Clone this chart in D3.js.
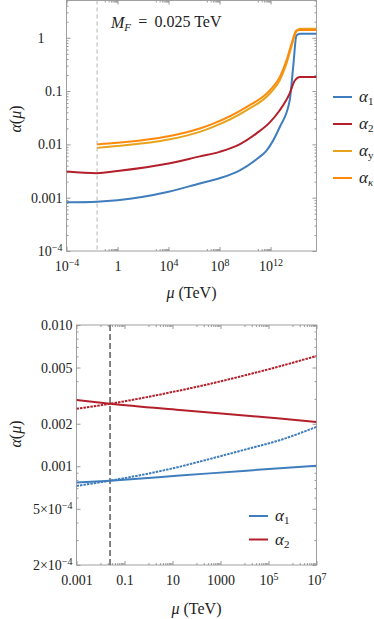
<!DOCTYPE html>
<html>
<head>
<meta charset="utf-8">
<script src="https://cdnjs.cloudflare.com/ajax/libs/d3/7.8.5/d3.min.js"></script>
<style>
  body { margin: 0; background: #fff; }
  svg text { font-family: 'Liberation Serif', serif; }
</style>
</head>
<body>
<div id="chart"></div>
<script>
'use strict';

// ---- data (mu given as log10 of TeV) ----
const topMuA1 = [-4, -1.6, 0, 4, 6.45, 8, 9.59, 11.0, 11.63, 12.72, 13.5, 13.77, 14.03, 14.3, 15.6];
const topA1   = [0.00082, 0.000843, 0.000897, 0.00129, 0.00185, 0.00232, 0.00327, 0.0055, 0.0074, 0.0212, 0.067, 0.281, 1.10, 1.19, 1.19];

const topMuA2 = [-4, -1.6, 0, 4, 6.45, 8, 9.57, 10.9, 11.94, 12.72, 13.5, 13.9, 14.3, 15.6];
const topA2   = [0.0031, 0.00288, 0.00316, 0.00437, 0.00596, 0.00724, 0.0100, 0.0161, 0.0259, 0.0436, 0.0906, 0.158, 0.183, 0.183];

const topMuAk = [-1.6, 0, 4, 6.45, 7.5, 10.1, 11.94, 12.72, 13.25, 13.64, 14.03, 14.3, 15.6];
const topAy   = [0.0086, 0.0093, 0.0123, 0.0172, 0.0213, 0.0435, 0.090, 0.160, 0.33, 0.69, 1.33, 1.47, 1.47];
const topAk   = [0.0100, 0.0107, 0.0142, 0.0198, 0.0245, 0.0501, 0.103, 0.183, 0.376, 0.773, 1.37, 1.40, 1.40];

const botMuSolidA1 = [-3, -1.6, 1.3, 4.08, 7];
const botA1Solid   = [0.000766, 0.000791, 0.000859, 0.000931, 0.00101];
const botMuSolidA2 = [-3, -1.6, 1.3, 5.47, 7];
const botA2Solid   = [0.00294, 0.00277, 0.0025, 0.00218, 0.00206];

const botMuDash = [-3, -1.6, 1.3, 2.14, 4.08, 5.47, 7];
const botA1Dash = [0.000726, 0.000791, 0.000993, 0.00108, 0.00132, 0.00153, 0.0019];
const botA2Dash = [0.00255, 0.00277, 0.00344, 0.00369, 0.00443, 0.0051, 0.00604];

const massF = 0.025;

const topXTicks = [1e-4, 1, 1e4, 1e8, 1e12];
const topYTicks = [1e-4, 1e-3, 1e-2, 0.1, 1];
const botXTicks = [1e-3, 0.1, 10, 1000, 1e5, 1e7];
const botYTicks = [2e-4, 5e-4, 1e-3, 2e-3, 5e-3, 1e-2];

const colors = { a1: '#3f7dbd', a2: '#b31f2a', ay: '#e8a31c', ak: '#ff8a0a' };
const FONT = "'Liberation Serif', serif";

// ---- layout ----
const W = 374, H = 619;
const svg = d3.select('#chart').append('svg').attr('width', W).attr('height', H)
    .attr('font-family', FONT);

const toPts = (mu, v) => mu.map((m, i) => [Math.pow(10, m), v[i]]);

function setLabel(sel, d, kind) {
    sel.text(null);
    const e = Math.round(Math.log10(d));
    const sup = (base, ex) => {
        sel.append('tspan').text(base);
        sel.append('tspan').attr('dy', '-0.45em').attr('font-size', '10px').text(ex);
    };
    if (kind === 'pow') {
        if (e === 0) sel.text('1').attr('dx', -18);
        else if (e === -3 || e === -2 || e === -1) sel.text(d3.format('')(d));
        else sup('10', e < 0 ? '\u2212' + (-e) : e);
    } else if (kind === 'powx') {
        if (e === 0) sel.text('1');
        else sup('10', e < 0 ? '\u2212' + (-e) : e);
    } else if (kind === 'botx') {
        if (e >= 5) sup('10', e);
        else sel.text(d < 1 ? String(d) : d3.format('d')(d));
    } else if (kind === 'boty') {
        if (d < 1e-3) sup(Math.round(d / 1e-4) + '\u00d710', '\u22124');
        else sel.text(d3.format('.3f')(d));
    }
}

function minorTicks(domain, majors) {
    const out = [];
    const lo = Math.floor(Math.log10(domain[0])), hi = Math.ceil(Math.log10(domain[1]));
    for (let e = lo; e <= hi; e++) {
        for (let k = 1; k <= 9; k++) {
            const v = k * Math.pow(10, e);
            if (v >= domain[0] * 0.999 && v <= domain[1] * 1.001 && !majors.some(m => Math.abs(m - v) / v < 1e-6)) out.push(v);
        }
    }
    return out;
}

function panel(cfg) {
    const g = svg.append('g');
    const x = d3.scaleLog().domain(cfg.xDomain).range([cfg.left, cfg.right]);
    const y = d3.scaleLog().domain(cfg.yDomain).range([cfg.bottom, cfg.top]);

    const clipId = 'clip' + cfg.id;
    svg.append('clipPath').attr('id', clipId).append('rect')
        .attr('x', cfg.left).attr('y', cfg.top)
        .attr('width', cfg.right - cfg.left).attr('height', cfg.bottom - cfg.top);

    // frame
    g.append('rect')
        .attr('x', cfg.left).attr('y', cfg.top)
        .attr('width', cfg.right - cfg.left).attr('height', cfg.bottom - cfg.top)
        .attr('fill', 'none').attr('stroke', '#a0a0a0').attr('stroke-width', 1);

    const xMinor = cfg.xMinor;
    const yMinor = minorTicks(cfg.yDomain, cfg.yTicks);

    const styleAxis = a => {
        a.attr('font-family', FONT).attr('font-size', 14);
        a.select('.domain').remove();
        a.selectAll('.tick line').attr('stroke', '#999');
        a.selectAll('.tick text').attr('fill', '#222');
    };

    // bottom
    g.append('g').attr('transform', `translate(0,${cfg.bottom})`)
        .call(d3.axisBottom(x).tickValues(cfg.xTicks).tickSize(-4).tickPadding(10))
        .call(styleAxis)
        .call(a => a.selectAll('.tick text').each(function(d) { setLabel(d3.select(this), d, cfg.xKind); }));
    g.append('g').attr('transform', `translate(0,${cfg.bottom})`)
        .call(d3.axisBottom(x).tickValues(xMinor).tickSize(-2).tickFormat(''))
        .call(styleAxis);
    // top (mirror)
    g.append('g').attr('transform', `translate(0,${cfg.top})`)
        .call(d3.axisTop(x).tickValues(cfg.xTicks).tickSize(-4).tickFormat(''))
        .call(styleAxis);
    g.append('g').attr('transform', `translate(0,${cfg.top})`)
        .call(d3.axisTop(x).tickValues(xMinor).tickSize(-2).tickFormat(''))
        .call(styleAxis);
    // left
    g.append('g').attr('transform', `translate(${cfg.left},0)`)
        .call(d3.axisLeft(y).tickValues(cfg.yTicks).tickSize(-4).tickPadding(4))
        .call(styleAxis)
        .call(a => a.selectAll('.tick text').each(function(d) { setLabel(d3.select(this), d, cfg.yKind); }));
    g.append('g').attr('transform', `translate(${cfg.left},0)`)
        .call(d3.axisLeft(y).tickValues(yMinor).tickSize(-2).tickFormat(''))
        .call(styleAxis);
    // right (mirror)
    g.append('g').attr('transform', `translate(${cfg.right},0)`)
        .call(d3.axisRight(y).tickValues(cfg.yTicks).tickSize(-4).tickFormat(''))
        .call(styleAxis);
    g.append('g').attr('transform', `translate(${cfg.right},0)`)
        .call(d3.axisRight(y).tickValues(yMinor).tickSize(-2).tickFormat(''))
        .call(styleAxis);

    // threshold line
    g.append('line')
        .attr('x1', x(massF)).attr('x2', x(massF))
        .attr('y1', cfg.top).attr('y2', cfg.bottom)
        .attr('stroke', cfg.vColor).attr('stroke-width', cfg.vWidth)
        .attr('stroke-dasharray', cfg.vDash);

    const line = d3.line().x(d => x(d[0])).y(d => y(d[1])).curve(d3.curveMonotoneX);
    const plot = g.append('g').attr('clip-path', `url(#${clipId})`);
    cfg.series.forEach(s => {
        plot.append('path')
            .datum(s.pts)
            .attr('d', line)
            .attr('fill', 'none')
            .attr('stroke', s.color)
            .attr('stroke-width', 2)
            .attr('stroke-dasharray', s.dash || null);
    });

    // axis labels
    const yl = g.append('text')
        .attr('transform', `translate(${cfg.yLabelX},${cfg.yLabelY}) rotate(-90)`)
        .attr('text-anchor', 'middle').attr('font-size', 16).attr('fill', '#222');
    yl.append('tspan').attr('font-style', 'italic').text('\u03b1');
    yl.append('tspan').text('(');
    yl.append('tspan').attr('font-style', 'italic').text('\u03bc');
    yl.append('tspan').text(')');

    const xl = g.append('text')
        .attr('x', (cfg.left + cfg.right) / 2).attr('y', cfg.xLabelY)
        .attr('text-anchor', 'middle').attr('font-size', 16).attr('fill', '#222');
    xl.append('tspan').attr('font-style', 'italic').text('\u03bc');
    xl.append('tspan').text(' (TeV)');

    // legend
    const lg = g.append('g').attr('transform', `translate(${cfg.legend.x},${cfg.legend.y})`);
    cfg.legend.items.forEach((it, i) => {
        const row = lg.append('g').attr('transform', `translate(0,${i * cfg.legend.step})`);
        row.append('line').attr('x1', 0).attr('x2', 19).attr('y1', 0).attr('y2', 0)
            .attr('stroke', it.color).attr('stroke-width', 2);
        const t = row.append('text').attr('x', 26).attr('y', 5).attr('font-size', 17).attr('fill', '#222');
        t.append('tspan').attr('font-style', 'italic').text('\u03b1');
        t.append('tspan').attr('dy', '0.3em').attr('font-size', 11)
            .attr('font-style', it.subItalic ? 'italic' : 'normal').text(it.sub);
    });

    return { g, x, y };
}

// ---- top panel ----
const topPanel = panel({
    id: 'top',
    left: 66.5, right: 316.5, top: 0.5, bottom: 251,
    xDomain: [1e-4, Math.pow(10, 15.6)],
    yDomain: [1e-4, 5],
    xTicks: topXTicks, yTicks: topYTicks,
    xMinor: minorTicks([0.01, 1e12], topXTicks).filter(v => topXTicks.some(m => v < m && v >= m / 10)),
    xKind: 'powx', yKind: 'pow',
    vColor: '#b5b5b5', vWidth: 1, vDash: '4,3',
    yLabelX: 21, yLabelY: 119, xLabelY: 298,
    series: [
        { pts: toPts(topMuA1, topA1), color: colors.a1 },
        { pts: toPts(topMuA2, topA2), color: colors.a2 },
        { pts: toPts(topMuAk, topAy), color: colors.ay },
        { pts: toPts(topMuAk, topAk), color: colors.ak }
    ],
    legend: {
        x: 333, y: 97, step: 27,
        items: [
            { color: colors.a1, sub: '1' },
            { color: colors.a2, sub: '2' },
            { color: colors.ay, sub: 'y' },
            { color: colors.ak, sub: '\u03ba', subItalic: true }
        ]
    }
});

const ann = topPanel.g.append('text').attr('x', 111).attr('y', 28).attr('font-size', 16).attr('fill', '#222');
ann.append('tspan').attr('font-style', 'italic').text('M');
ann.append('tspan').attr('dy', '0.3em').attr('font-size', 11).attr('font-style', 'italic').text('F');
ann.append('tspan').attr('dy', '-0.3em').text('\u2009 = \u2009' + massF + ' TeV');

// ---- bottom panel ----
panel({
    id: 'bot',
    left: 76.5, right: 316.5, top: 325, bottom: 565,
    xDomain: [1e-3, 1e7],
    yDomain: [2e-4, 1e-2],
    xTicks: botXTicks, yTicks: botYTicks,
    xMinor: minorTicks([1e-3, 1e7], botXTicks).filter(v => botXTicks.some(m => v < m && v >= m / 10)),
    xKind: 'botx', yKind: 'boty',
    vColor: '#666', vWidth: 1.6, vDash: '6,3',
    yLabelX: 21, yLabelY: 434, xLabelY: 614,
    series: [
        { pts: toPts(botMuSolidA1, botA1Solid), color: colors.a1 },
        { pts: toPts(botMuDash, botA1Dash), color: colors.a1, dash: '2.5,1' },
        { pts: toPts(botMuSolidA2, botA2Solid), color: colors.a2 },
        { pts: toPts(botMuDash, botA2Dash), color: colors.a2, dash: '2.5,1' }
    ],
    legend: {
        x: 249, y: 516, step: 23.5,
        items: [
            { color: colors.a1, sub: '1' },
            { color: colors.a2, sub: '2' }
        ]
    }
});
</script>
</body>
</html>
